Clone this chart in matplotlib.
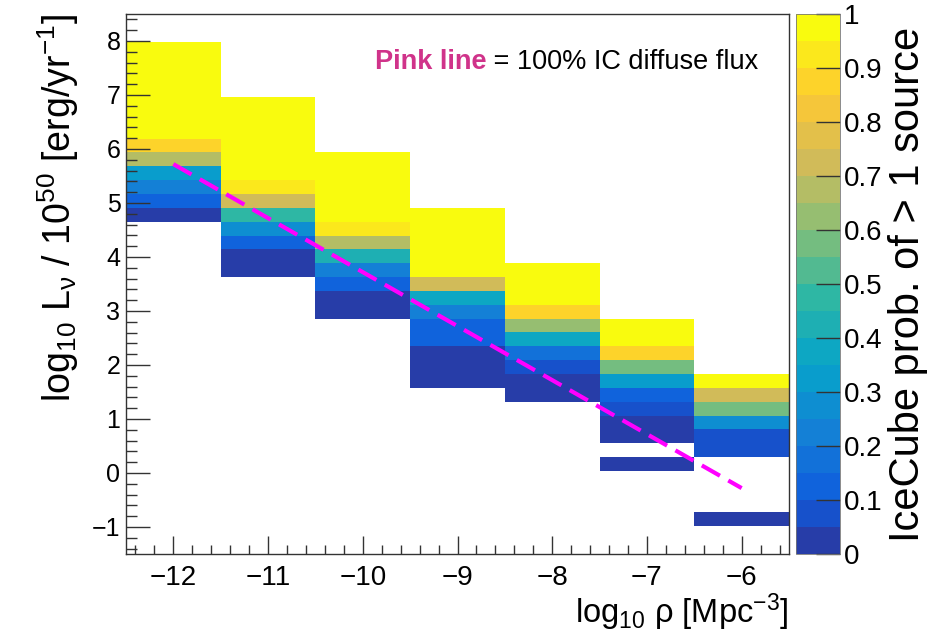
import numpy as np
import matplotlib
matplotlib.use('Agg')
import matplotlib.pyplot as plt
from matplotlib.colors import ListedColormap, BoundaryNorm

plt.rcParams['font.family'] = ['Liberation Sans', 'DejaVu Sans']
plt.rcParams['mathtext.fontset'] = 'custom'
plt.rcParams['mathtext.rm'] = 'Liberation Sans'
plt.rcParams['mathtext.it'] = 'Liberation Sans'
plt.rcParams['mathtext.default'] = 'regular'

# ---- data ----
rho_edges = [-12.5, -11.5, -10.5, -9.5, -8.5, -7.5, -6.5, -5.5]
lum_lo, lum_hi, n_lum_bins = -1.5, 8.5, 39

# lowest filled luminosity bin of each density column, then probs going up
first_bin = [24, 20, 17, 12, 11, 6, 2]
prob = [
    [0.02, 0.12, 0.22, 0.32, 0.67, 0.87, 0.97, 0.98, 0.99, 0.99, 0.99, 0.99, 0.99],
    [0.01, 0.03, 0.12, 0.27, 0.47, 0.72, 0.92, 0.97, 0.98, 0.99, 0.99, 0.99, 0.99],
    [0.01, 0.03, 0.12, 0.22, 0.42, 0.67, 0.92, 0.97, 0.98, 0.99, 0.99, 0.99],
    [0.01, 0.02, 0.04, 0.12, 0.14, 0.22, 0.37, 0.72, 0.96, 0.97, 0.98, 0.99, 0.99],
    [0.01, 0.03, 0.07, 0.17, 0.37, 0.62, 0.87, 0.96, 0.98, 0.99],
    [0.01, np.nan, 0.02, 0.04, 0.07, 0.12, 0.32, 0.57, 0.87, 0.96, 0.98],
    [0.01, np.nan, np.nan, np.nan, np.nan, 0.06, 0.08, 0.27, 0.57, 0.72, 0.97],
]

# 100% IceCube diffuse flux line
flux_x = [-12.0, -6.0]
flux_y = [5.72, -0.28]

levels = np.linspace(0, 1, 21)
cbar_ticks = np.arange(0, 1.01, 0.1)
cbar_labels = ['0', '0.1', '0.2', '0.3', '0.4', '0.5', '0.6', '0.7', '0.8', '0.9', '1']


def bird_palette(ncontours=20, ncolors=255):
    """ROOT kBird palette, picked the way THistPainter does for colz contours"""
    stops = [0.0, 0.125, 0.25, 0.375, 0.5, 0.625, 0.75, 0.875, 1.0]
    red = [0.2082, 0.0592, 0.0780, 0.0232, 0.1802, 0.5301, 0.8186, 0.9956, 0.9764]
    green = [0.1664, 0.3599, 0.5041, 0.6419, 0.7178, 0.7492, 0.7328, 0.7862, 0.9832]
    blue = [0.5293, 0.8684, 0.8385, 0.7914, 0.6425, 0.4662, 0.3499, 0.1968, 0.0539]
    cols = []
    for k in range(ncontours):
        i = int((k + 0.99) * ncolors / ncontours)
        t = min(i / (ncolors - 1), 1.0)
        cols.append((np.interp(t, stops, red), np.interp(t, stops, green),
                     np.interp(t, stops, blue)))
    return cols


cmap = ListedColormap(bird_palette())
norm = BoundaryNorm(levels, cmap.N)

grid = np.full((n_lum_bins, len(first_bin)), np.nan)
for j, (b0, vals) in enumerate(zip(first_bin, prob)):
    grid[b0:b0 + len(vals), j] = vals
lum_edges = np.linspace(lum_lo, lum_hi, n_lum_bins + 1)

fig = plt.figure(figsize=(9.47, 6.43), dpi=100)
ax = fig.add_axes([126 / 947, 89 / 643, 663 / 947, 540 / 643])

mesh = ax.pcolormesh(rho_edges, lum_edges, np.ma.masked_invalid(grid),
                     cmap=cmap, norm=norm, antialiased=False, edgecolors='none')

ax.plot(flux_x, flux_y, color='#ff00ff', lw=3.0, dashes=(5, 2.3),
        dash_capstyle='butt')

ax.set_xlim(-12.5, -5.5)
ax.set_ylim(-1.5, 8.5)
ax.set_xticks(np.arange(-12, -5.5, 1))
ax.set_xticks(np.arange(-12.4, -5.5, 0.2), minor=True)
ax.set_yticks(np.arange(-1, 8.5, 1))
ax.set_yticks(np.arange(-1.4, 8.5, 0.2), minor=True)
ax.tick_params(axis='both', which='both', direction='in', top=False, right=False,
               width=1.0, color='#333333')
ax.tick_params(axis='y', which='major', length=17, pad=4, labelsize=18)
ax.tick_params(axis='y', which='minor', length=8)
ax.tick_params(axis='x', which='major', length=13, pad=8, labelsize=20)
ax.tick_params(axis='x', which='minor', length=6.5)
for sp in ax.spines.values():
    sp.set_linewidth(1.0)
    sp.set_color('#333333')

ax.set_xlabel(r'log$_{10}$ $\rho$ [Mpc$^{-3}$]', fontsize=23.5, loc='right', labelpad=0)
ax.set_ylabel(r'log$_{10}$ L$_{\nu}$ / 10$^{50}$ [erg/yr$^{-1}$]', fontsize=27,
              loc='top', labelpad=8)

t1 = fig.text(375 / 947, 1 - 75 / 643, 'Pink line', color='#d0338a',
              fontweight='bold', fontsize=19.5, va='bottom')
fig.canvas.draw()
ax.annotate(' = 100% IC diffuse flux', xy=(1, 0), xycoords=t1, va='bottom',
            fontsize=19.5, color='black')

cax = fig.add_axes([796 / 947, 89 / 643, 44 / 947, 540 / 643])
cb = fig.colorbar(mesh, cax=cax, ticks=cbar_ticks, spacing='proportional')
cb.outline.set_linewidth(0.6)
cb.outline.set_edgecolor('#777777')
cb.ax.set_yticklabels(cbar_labels)
cb.ax.tick_params(direction='in', length=17, width=1.0, color='#333333',
                  labelsize=20, pad=3)
cb.ax.minorticks_off()
cb.set_label('IceCube prob. of > 1 source', fontsize=30, labelpad=4)

fig.savefig('out.png', dpi=100)
